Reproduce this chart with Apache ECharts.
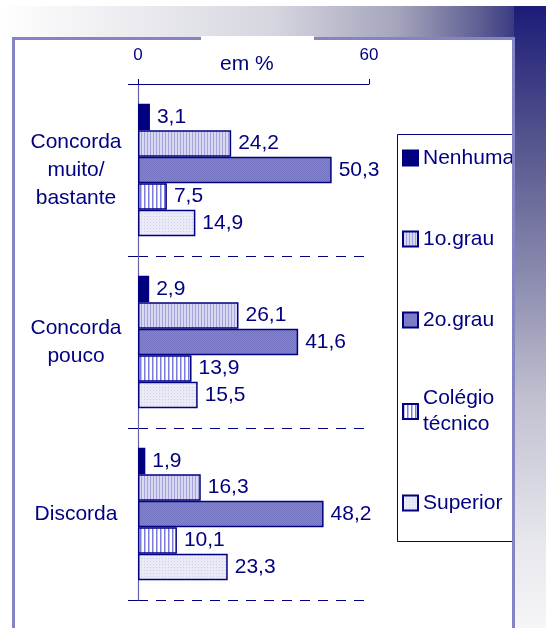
<!DOCTYPE html>
<html>
<head>
<meta charset="utf-8">
<script src="https://cdn.jsdelivr.net/npm/echarts@6/dist/echarts.min.js"></script>
<style>html,body{margin:0;padding:0;background:#fff}#c{width:546px;height:628px}</style>
</head>
<body>
<div id="c"></div>
<script>
// ---- data ----
const categories = ['Concorda\nmuito/\nbastante', 'Concorda\npouco', 'Discorda'];
const seriesNames = ['Nenhuma', '1o.grau', '2o.grau', 'Colégio técnico', 'Superior'];
const nenhuma = [3.1, 2.9, 1.9];
const grau1 = [24.2, 26.1, 16.3];
const grau2 = [50.3, 41.6, 48.2];
const colegioTecnico = [7.5, 13.9, 10.1];
const superior = [14.9, 15.5, 23.3];
const axisTicks = [0, 60];
const axisTitle = 'em %';

const NAVY = '#000080';
const FONT = '"Liberation Sans", Arial, sans-serif';

function pattern(w, h, draw) {
  const c = document.createElement('canvas');
  c.width = w; c.height = h;
  const ctx = c.getContext('2d');
  draw(ctx);
  return { image: c, repeat: 'repeat' };
}
const fills = [
  NAVY,
  pattern(3, 3, ctx => { ctx.fillStyle = '#d8d8f2'; ctx.fillRect(0,0,3,3); ctx.fillStyle = '#a4a4da'; ctx.fillRect(0,0,1,3); }),
  pattern(2, 2, ctx => { ctx.fillStyle = '#8484cc'; ctx.fillRect(0,0,2,2); ctx.fillStyle = '#7474c0'; ctx.fillRect(0,0,1,1); ctx.fillRect(1,1,1,1); }),
  pattern(4, 4, ctx => { ctx.fillStyle = '#ffffff'; ctx.fillRect(0,0,4,4); ctx.fillStyle = '#7c7cdc'; ctx.fillRect(0,0,1,4); ctx.fillStyle = '#bcbcee'; ctx.fillRect(1,0,1,4); }),
  pattern(3, 3, ctx => { ctx.fillStyle = '#ebebf8'; ctx.fillRect(0,0,3,3); ctx.fillStyle = '#cdcdec'; ctx.fillRect(0,0,1,1); })
];
const values = [nenhuma, grau1, grau2, colegioTecnico, superior];

const chart = echarts.init(document.getElementById('c'), null, { renderer: 'canvas' });

const fmt = v => v.toFixed(1).replace('.', ',');

const option = {
  animation: false,
  textStyle: { fontFamily: FONT },
  graphic: [
    { type: 'rect', z: -20, shape: { x: 0, y: 6, width: 546, height: 34 },
      style: { fill: new echarts.graphic.LinearGradient(0, 0, 1, 0, [
        { offset: 0, color: '#ffffff' }, { offset: 0.5, color: '#d6d6e0' },
        { offset: 0.73, color: '#a4a4bc' }, { offset: 0.88, color: '#5e5e92' },
        { offset: 1, color: '#181878' }]) } },
    { type: 'rect', z: -19, shape: { x: 514, y: 6, width: 32, height: 622 },
      style: { fill: new echarts.graphic.LinearGradient(0, 0, 0, 1, [
        { offset: 0, color: '#1c1c78' }, { offset: 0.2, color: '#50508c' },
        { offset: 0.47, color: '#9494b4' }, { offset: 0.63, color: '#c0c0d0' },
        { offset: 0.87, color: '#e8e8ee' }, { offset: 1, color: '#f6f6f8' }]) } },
    { type: 'rect', z: -18, shape: { x: 13.5, y: 38.5, width: 500, height: 620 },
      style: { fill: '#ffffff' } },
    { type: 'rect', z: -17, shape: { x: 397.5, y: 134.5, width: 116, height: 407 },
      style: { fill: 'none', stroke: NAVY, lineWidth: 1 } },
    { type: 'rect', z: 50, shape: { x: 13.5, y: 38.5, width: 500, height: 620 },
      style: { fill: 'none', stroke: '#8484c4', lineWidth: 3 } },
    { type: 'rect', z: 51, shape: { x: 201, y: 36, width: 113, height: 5 },
      style: { fill: '#ffffff' } }
  ],
  title: {
    text: axisTitle, left: 220, top: 54, padding: 0,
    textStyle: { fontSize: 21, fontWeight: 'normal', color: NAVY, fontFamily: FONT }
  },
  legend: {
    orient: 'vertical', left: 402, top: 145, padding: 0, itemGap: 55,
    itemWidth: 15, itemHeight: 15, icon: 'rect', selectedMode: false,
    textStyle: { fontSize: 21, color: NAVY, lineHeight: 26, fontFamily: FONT },
    formatter: name => name === 'Colégio técnico' ? 'Colégio\ntécnico' : name,
    data: seriesNames.map(n => n === 'Colégio técnico'
      ? { name: n, textStyle: { padding: [0, 0, -26, 0] } } : { name: n })
  },
  grid: { left: 138, top: 84, width: 231, height: 516, containLabel: false },
  xAxis: {
    type: 'value', position: 'top', min: axisTicks[0], max: axisTicks[1], interval: axisTicks[1] - axisTicks[0],
    axisLine: { show: true, lineStyle: { color: NAVY, width: 1 } },
    axisTick: { show: true, length: 5, lineStyle: { color: NAVY } },
    axisLabel: { fontSize: 17, color: NAVY, margin: 20, fontFamily: FONT },
    splitLine: { show: false }
  },
  yAxis: {
    type: 'category', inverse: true, data: categories,
    axisLine: { show: true, lineStyle: { color: '#6464ac', width: 1.2 } },
    axisTick: { show: true, length: 11, lineStyle: { color: NAVY, type: [10, 8] } },
    axisLabel: { fontSize: 21, color: NAVY, align: 'center', margin: 62, lineHeight: 28, fontFamily: FONT },
    splitLine: { show: true, lineStyle: { color: NAVY, type: [10, 8], width: 1 } }
  },
  series: seriesNames.map((n, i) => ({
    name: n, type: 'bar', data: values[i],
    barGap: '0%', barCategoryGap: '23%',
    itemStyle: { color: fills[i], borderColor: NAVY, borderWidth: 1.5 },
    label: { show: true, position: 'right', distance: 7, fontSize: 21, color: NAVY,
      fontFamily: FONT, formatter: p => fmt(p.value) }
  }))
};
chart.setOption(option);
</script>
</body>
</html>
